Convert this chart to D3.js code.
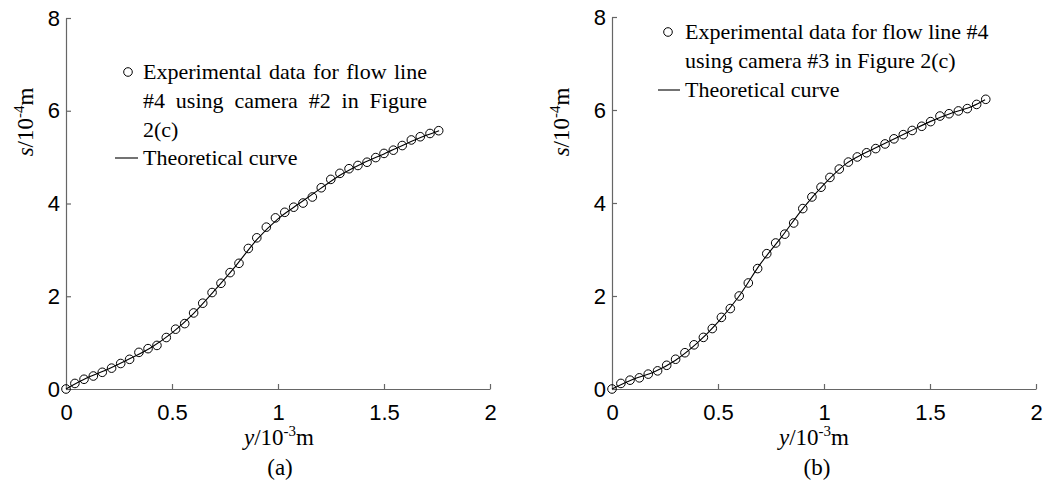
<!DOCTYPE html>
<html>
<head>
<meta charset="utf-8">
<script src="https://cdn.jsdelivr.net/npm/d3@7"></script>
<style>
  body { margin: 0; background: #fff; }
  svg { display: block; }
  .tick text { font-family: "Liberation Sans", Arial, sans-serif; font-size: 22px; fill: #000; }
  .serif { font-family: "Liberation Serif", "Times New Roman", serif; fill: #000; }
</style>
</head>
<body>
<svg id="chart" width="1051" height="481"></svg>
<script>
// panel (a): flow line #4, camera #2
var expYA = [0, 0.042, 0.085, 0.129, 0.171, 0.215, 0.258, 0.30, 0.344, 0.387, 0.429, 0.473, 0.517, 0.56,
             0.602, 0.645, 0.689, 0.731, 0.774, 0.816, 0.86, 0.90, 0.945, 0.988, 1.032, 1.074, 1.118, 1.162,
             1.204, 1.249, 1.292, 1.335, 1.377, 1.42, 1.461, 1.50, 1.544, 1.586, 1.629, 1.671, 1.717, 1.758];
var expSA = [0, 0.12, 0.21, 0.28, 0.36, 0.45, 0.55, 0.64, 0.79, 0.87, 0.94, 1.11, 1.29, 1.41,
             1.64, 1.85, 2.08, 2.28, 2.51, 2.71, 3.03, 3.26, 3.49, 3.69, 3.81, 3.92, 4.01, 4.14,
             4.34, 4.52, 4.65, 4.75, 4.82, 4.89, 4.99, 5.08, 5.15, 5.25, 5.37, 5.44, 5.51, 5.57];
var theoYA = [0, 0.1, 0.2, 0.3, 0.4, 0.5, 0.6, 0.7, 0.8, 0.9, 1.0, 1.1, 1.2, 1.3, 1.4, 1.5, 1.6, 1.7, 1.76];
var theoSA = [0, 0.24, 0.43, 0.65, 0.89, 1.21, 1.62, 2.12, 2.65, 3.22, 3.67, 4.00, 4.32, 4.63, 4.87, 5.07, 5.28, 5.47, 5.57];

// panel (b): flow line #4, camera #3
var expYB = [0, 0.042, 0.085, 0.129, 0.171, 0.215, 0.258, 0.30, 0.344, 0.387, 0.431, 0.473, 0.516, 0.558,
             0.60, 0.643, 0.687, 0.73, 0.772, 0.815, 0.857, 0.90, 0.943, 0.986, 1.028, 1.072, 1.115, 1.157,
             1.201, 1.244, 1.288, 1.33, 1.374, 1.416, 1.461, 1.503, 1.547, 1.59, 1.634, 1.676, 1.72, 1.763];
var expSB = [0, 0.12, 0.19, 0.24, 0.32, 0.39, 0.51, 0.64, 0.78, 0.95, 1.11, 1.30, 1.54, 1.73,
             2.00, 2.28, 2.59, 2.91, 3.14, 3.33, 3.57, 3.88, 4.13, 4.34, 4.55, 4.73, 4.88, 4.99,
             5.08, 5.17, 5.27, 5.38, 5.47, 5.56, 5.65, 5.75, 5.87, 5.92, 5.98, 6.03, 6.12, 6.23];
var theoYB = [0, 0.1, 0.2, 0.3, 0.4, 0.5, 0.6, 0.7, 0.8, 0.9, 1.0, 1.1, 1.2, 1.3, 1.4, 1.5, 1.6, 1.7, 1.76];
var theoSB = [0, 0.21, 0.37, 0.62, 0.98, 1.44, 2.00, 2.69, 3.27, 3.88, 4.40, 4.83, 5.09, 5.31, 5.53, 5.75, 5.93, 6.08, 6.22];

var xTicks = [0, 0.5, 1, 1.5, 2];
var yTicks = [0, 2, 4, 6, 8];

var svg = d3.select("#chart");

var justifyLine = function(g, words, x0, x1, y) {
    var nodes = words.map(function(w) {
        return g.append("text").attr("class", "serif").attr("y", y).style("font-size", "22px").text(w);
    });
    var widths = nodes.map(function(n) { return n.node().getComputedTextLength(); });
    var gap = (x1 - x0 - d3.sum(widths)) / (words.length - 1);
    var x = x0;
    nodes.forEach(function(n, i) {
        n.attr("x", x);
        x += widths[i] + gap;
    });
};

var drawPanel = function(p) {
    var x = d3.scaleLinear().domain([0, 2]).range([p.left, p.right]);
    var y = d3.scaleLinear().domain([0, 8]).range([p.bottom, p.top]);
    var g = svg.append("g");

    g.append("g")
        .attr("transform", "translate(0," + p.bottom + ")")
        .call(d3.axisBottom(x).tickValues(xTicks).tickFormat(d3.format("~g"))
              .tickSizeInner(-5).tickSizeOuter(0).tickPadding(15));
    g.append("g")
        .attr("transform", "translate(" + p.left + ",0)")
        .call(d3.axisLeft(y).tickValues(yTicks).tickFormat(d3.format("~g"))
              .tickSizeInner(-5).tickSizeOuter(0).tickPadding(6));
    g.selectAll(".domain, .tick line").attr("stroke", "#666").attr("stroke-width", 1.2);

    // theoretical curve
    var line = d3.line()
        .x(function(d) { return x(d[0]); })
        .y(function(d) { return y(d[1]); })
        .curve(d3.curveMonotoneX);
    g.append("path")
        .datum(d3.zip(p.theoY, p.theoS))
        .attr("fill", "none")
        .attr("stroke", "#000")
        .attr("stroke-width", 1.1)
        .attr("d", line);

    // experimental points
    g.selectAll("circle.exp")
        .data(d3.zip(p.expY, p.expS))
        .enter()
        .append("circle")
        .attr("class", "exp")
        .attr("cx", function(d) { return x(d[0]); })
        .attr("cy", function(d) { return y(d[1]); })
        .attr("r", 4.3)
        .attr("fill", "none")
        .attr("stroke", "#000")
        .attr("stroke-width", 1);

    // axis labels
    var xl = g.append("text").attr("class", "serif")
        .attr("x", p.xLabelX).attr("y", 445)
        .attr("text-anchor", "middle").style("font-size", "23px");
    xl.append("tspan").style("font-style", "italic").text("y");
    xl.append("tspan").text("/10");
    xl.append("tspan").attr("dy", -9).style("font-size", "15px").text("-3");
    xl.append("tspan").attr("dy", 9).text("m");

    var yl = g.append("text").attr("class", "serif")
        .attr("transform", "translate(" + p.yLabelX + ",122) rotate(-90)")
        .attr("text-anchor", "middle").style("font-size", "23px");
    yl.append("tspan").style("font-style", "italic").text("s");
    yl.append("tspan").text("/10");
    yl.append("tspan").attr("dy", -9).style("font-size", "15px").text("-4");
    yl.append("tspan").attr("dy", 9).text("m");

    g.append("text").attr("class", "serif")
        .attr("x", p.capX).attr("y", 475)
        .attr("text-anchor", "middle").style("font-size", "23px")
        .text(p.caption);

    // legend
    var lg = g.append("g");
    lg.append("circle")
        .attr("cx", p.legMarkX).attr("cy", p.legMarkY).attr("r", 4.3)
        .attr("fill", "none").attr("stroke", "#000").attr("stroke-width", 1);
    p.legLines.forEach(function(l) {
        if (l.justify) {
            justifyLine(lg, l.text.split(" "), p.legTextX, l.justify, l.y);
        } else {
            lg.append("text").attr("class", "serif")
                .attr("x", p.legTextX).attr("y", l.y)
                .style("font-size", "22px").text(l.text);
        }
    });
    lg.append("line")
        .attr("x1", p.legLineX[0]).attr("x2", p.legLineX[1])
        .attr("y1", p.legLineY).attr("y2", p.legLineY)
        .attr("stroke", "#000").attr("stroke-width", 1.1);
};

drawPanel({
    left: 66, right: 490, top: 18, bottom: 389,
    expY: expYA, expS: expSA, theoY: theoYA, theoS: theoSA,
    xLabelX: 279, yLabelX: 33, capX: 280, caption: "(a)",
    legMarkX: 128, legMarkY: 72, legTextX: 143,
    legLines: [
        { text: "Experimental data for flow line", y: 79, justify: 427 },
        { text: "#4 using camera #2 in Figure", y: 108, justify: 427 },
        { text: "2(c)", y: 137 },
        { text: "Theoretical curve", y: 165 }
    ],
    legLineX: [115, 138], legLineY: 158
});

drawPanel({
    left: 612, right: 1036, top: 17, bottom: 389,
    expY: expYB, expS: expSB, theoY: theoYB, theoS: theoSB,
    xLabelX: 814, yLabelX: 569, capX: 817, caption: "(b)",
    legMarkX: 668, legMarkY: 32, legTextX: 685,
    legLines: [
        { text: "Experimental data for flow line #4", y: 39 },
        { text: "using camera #3 in Figure 2(c)", y: 68 },
        { text: "Theoretical curve", y: 97 }
    ],
    legLineX: [658, 680], legLineY: 90
});
</script>
</body>
</html>
